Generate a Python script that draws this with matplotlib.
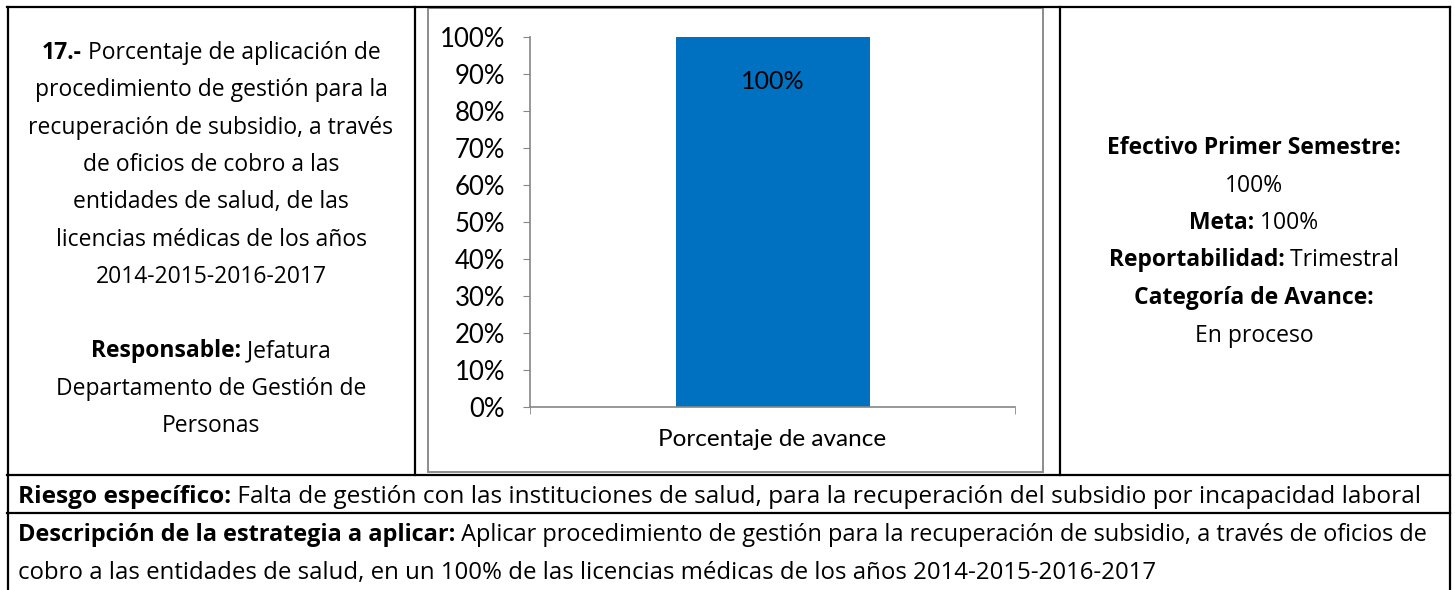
import matplotlib
matplotlib.use('Agg')
import matplotlib.pyplot as plt
from matplotlib.patches import Rectangle
from matplotlib.ticker import PercentFormatter

categories = ['Porcentaje de avance']
values = [100]
yticks = [0, 10, 20, 30, 40, 50, 60, 70, 80, 90, 100]

left_lines = [
    [('17.-', 'bold'), (' Porcentaje de aplicación de', 'normal')],
    [('procedimiento de gestión para la', 'normal')],
    [('recuperación de subsidio, a través', 'normal')],
    [('de oficios de cobro a las', 'normal')],
    [('entidades de salud, de las', 'normal')],
    [('licencias médicas de los años', 'normal')],
    [('2014-2015-2016-2017', 'normal')],
    None,
    [('Responsable:', 'bold'), (' Jefatura', 'normal')],
    [('Departamento de Gestión de', 'normal')],
    [('Personas', 'normal')],
]
right_lines = [
    [('Efectivo Primer Semestre:', 'bold')],
    [('100%', 'normal')],
    [('Meta:', 'bold'), (' 100%', 'normal')],
    [('Reportabilidad:', 'bold'), (' Trimestral', 'normal')],
    [('Categoría de Avance:', 'bold')],
    [('En proceso', 'normal')],
]
riesgo = [('Riesgo específico:', 'bold'),
          (' Falta de gestión con las instituciones de salud, para la recuperación del subsidio por incapacidad laboral', 'normal')]
estrategia1 = [('Descripción de la estrategia a aplicar:', 'bold'),
               (' Aplicar procedimiento de gestión para la recuperación de subsidio, a través de oficios de', 'normal')]
estrategia2 = [('cobro a las entidades de salud, en un 100% de las licencias médicas de los años 2014-2015-2016-2017', 'normal')]

W, H = 1455, 590
fig = plt.figure(figsize=(W / 100, H / 100), dpi=100)
base = fig.add_axes([0, 0, 1, 1])
base.set_xlim(0, W)
base.set_ylim(H, 0)
base.axis('off')

TFONT = 'Open Sans'
renderer = fig.canvas.get_renderer()


def mixed_line(x, y, parts, ha='center', size=16.5):
    texts = []
    for s, w in parts:
        t = base.text(0, y, s, fontsize=size, fontweight=w, family=TFONT,
                      ha='left', va='baseline', color='black')
        texts.append(t)
    widths = [t.get_window_extent(renderer).width for t in texts]
    cur = x - sum(widths) / 2 if ha == 'center' else x
    for t, wd in zip(texts, widths):
        t.set_x(cur)
        cur += wd


# table lines
lw = 1.6
base.plot([7, 1450], [7, 7], color='black', lw=lw)
base.plot([7.5, 7.5], [7, H], color='black', lw=lw)
base.plot([1449.5, 1449.5], [7, H], color='black', lw=lw)
base.plot([414.5, 414.5], [7, 475], color='black', lw=lw)
base.plot([1059.5, 1059.5], [7, 475], color='black', lw=lw)
base.plot([7, 1450], [475, 475], color='black', lw=lw)
base.plot([7, 1450], [512.5, 512.5], color='black', lw=lw)

# chart frame
base.add_patch(Rectangle((428, 8), 615, 464, fill=False, edgecolor='#8c8c8c', lw=1.4))

# left cell
y0 = 59
for i, line in enumerate(left_lines):
    if line is None:
        continue
    mixed_line(211, y0 + i * 37.3, line)

# right cell
y0 = 154
for i, line in enumerate(right_lines):
    mixed_line(1254, y0 + i * 37.5, line)

mixed_line(18, 503, riesgo, ha='left', size=17.6)
mixed_line(18, 541, estrategia1, ha='left', size=16.9)
mixed_line(18, 579, estrategia2, ha='left', size=17.3)

# chart
ax = fig.add_axes([530 / W, 183 / H, 485 / W, 370 / H])
x = list(range(len(categories)))
ax.bar(x, values, width=0.4, color='#0070C0')
ax.set_xlim(-0.5, len(categories) - 0.5)
ax.set_ylim(0, 100)
ax.set_yticks(yticks)
ax.yaxis.set_major_formatter(PercentFormatter(decimals=0))
ax.set_xticks(x)
ax.set_xticklabels(categories)
ax.set_xticks([-0.5, len(categories) - 0.5], minor=True)
for s in ['top', 'right']:
    ax.spines[s].set_visible(False)
for s in ['left', 'bottom']:
    ax.spines[s].set_color('#868686')
    ax.spines[s].set_linewidth(1.2)
ax.tick_params(axis='y', length=5, color='#868686', labelsize=18.5, pad=13)
ax.tick_params(axis='x', which='major', length=0, labelsize=17.5, pad=16)
ax.tick_params(axis='x', which='minor', length=5, color='#868686')
for lbl in ax.get_xticklabels() + ax.get_yticklabels():
    lbl.set_family('Lato')
for xi, v in zip(x, values):
    ax.text(xi, v - 12, f'{v}%', ha='center', va='center', fontsize=18, family='Lato')

fig.savefig('out.png', dpi=100)
